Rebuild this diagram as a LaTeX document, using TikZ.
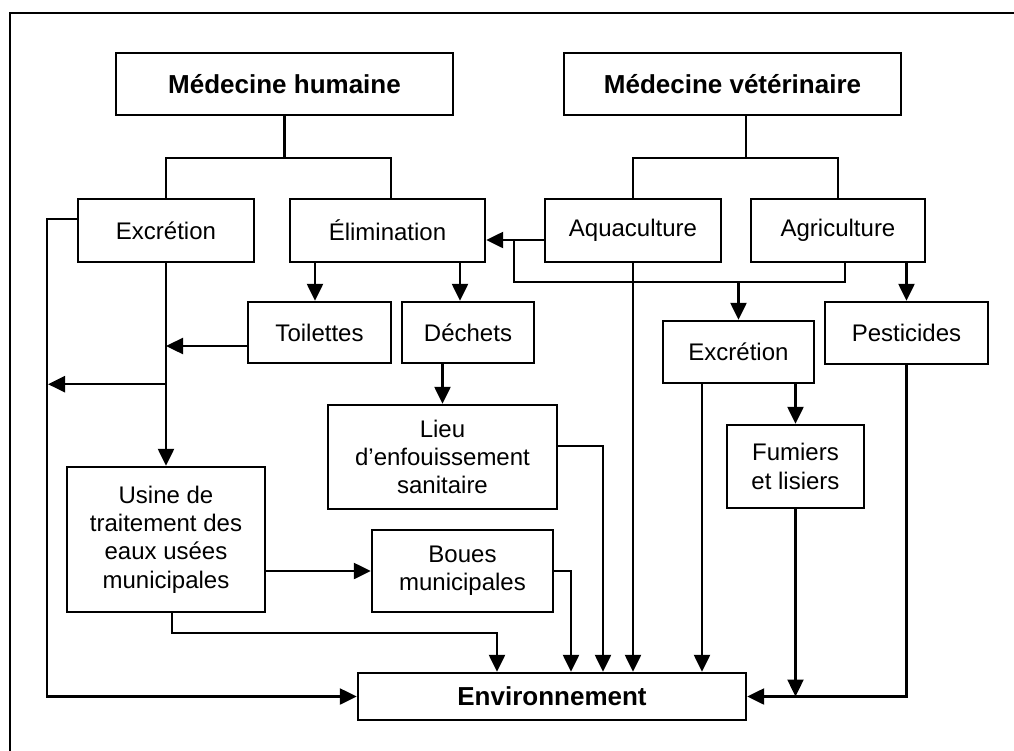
\documentclass[tikz,border=0pt]{standalone}
\usepackage{fontspec}
\setmainfont{Liberation Sans}
\usetikzlibrary{calc,arrows.meta}

\tikzset{
  box/.style={draw,line width=1.2pt,inner sep=0pt,align=center,font=\fontsize{12}{14.2}\selectfont},
  bbox/.style={box,font=\fontsize{13}{15}\selectfont\bfseries},
  link/.style={line width=1.2pt},
  arr/.style={link,-{Triangle[length=8.5pt,width=8pt]}}
}

\begin{document}
\begin{tikzpicture}[x=0.5pt,y=-0.5pt]
\useasboundingbox (0,0) rectangle (1014,751);
\draw[line width=1.3pt] (1014,13) -| (10,751);

\begin{scope}
\node[bbox,minimum width=168.5pt,minimum height=31pt] (mh) at (284.5,84) {Médecine humaine};
\node[box,minimum width=88pt,minimum height=31.5pt] (exch) at (166,230.5) {Excrétion};
\node[box,minimum width=97.5pt,minimum height=31.5pt] (elim) at (387.5,230.5) {Élimination};
\node[box,minimum width=71.5pt,minimum height=30.5pt] (toil) at (319.5,332.5) {Toilettes};
\node[box,minimum width=66pt,minimum height=30.5pt] (dech) at (468,332.5) {Déchets};
\node[box,minimum width=114.5pt,minimum height=52pt] (lieu) at (442.5,457) {Lieu\\d’enfouissement\\sanitaire};
\node[box,minimum width=99pt,minimum height=72.5pt] (usine) at (166,539.5) {Usine de\\traitement des\\eaux usées\\municipales};
\node[box,minimum width=90.5pt,minimum height=41pt] (boues) at (462.5,571) {Boues\\municipales};
\end{scope}

\begin{scope}
\node[bbox,minimum width=168.5pt,minimum height=31pt] (mv) at (732.5,84) {Médecine vétérinaire};
\node[box,minimum width=88pt,minimum height=31.5pt] (aqua) at (633,230.5) {Aquaculture};
\node[box,minimum width=87pt,minimum height=31.5pt] (agri) at (838,230.5) {Agriculture};
\node[box,minimum width=75.5pt,minimum height=31pt] (excv) at (738.5,352) {Excrétion};
\node[box,minimum width=81.5pt,minimum height=31pt] (pest) at (906.5,333) {Pesticides};
\node[box,minimum width=68.5pt,minimum height=41.5pt] (fum) at (795.5,466.5) {Fumiers\\et lisiers};
\end{scope}

\node[bbox,minimum width=194pt,minimum height=23.5pt] (env) at (552,696.5) {Environnement};

\draw[link] (mh.south) -- ++(0,42) coordinate (mhj);
\draw[link] (exch.north) |- (mhj) -| ($(elim.north)+(3.5,0)$);
\draw[link] ($(mv.south)+(13.5,0)$) -- ++(0,42) coordinate (mvj);
\draw[link] (aqua.north) |- (mvj) -| (agri.north);

\coordinate (e1) at ($(elim.south)+(-72.5,0)$);
\coordinate (e2) at ($(elim.south)+(72.5,0)$);
\draw[arr] (e1) -- (e1 |- toil.north);
\draw[arr] (e2) -- (e2 |- dech.north);

\coordinate (ag) at ($(agri.south)+(7,0)$);
\draw[link] ($(aqua.west)+(0,9.5)$) -- ++(-30,0) coordinate (aj);
\draw[arr] (ag) -- ++(0,19) coordinate (agj) -| (aj) -- ($(elim.east)+(0,9.5)$);
\draw[arr] (agj -| excv.north) -- (excv.north);
\draw[arr] (pest.north |- agri.south) -- (pest.north);
\draw[arr] (aqua.south) -- (aqua.south |- env.north);

\coordinate (tj) at ($(toil.west)+(0,13.5)$);
\draw[arr] (tj) -- (tj -| exch.south);
\draw[arr] (exch.south) -- (usine.north);
\draw[arr] ($(exch.west)+(0,-11.5)$) -- ++(-30,0) |- (env.west);
\draw[arr] ($(exch.south)+(0,121)$) -- ++(-118,0);

\draw[arr] (lieu.north |- dech.south) -- (lieu.north);
\draw[arr] ($(lieu.east)+(0,-11)$) -| ($(env.north)+(51,0)$);
\draw[arr] (usine.east |- boues.west) -- (boues.west);
\draw[arr] (boues.east) -| ($(env.north)+(19,0)$);
\draw[arr] ($(usine.south)+(6,0)$) -- ++(0,20) -| ($(env.north)+(-55,0)$);

\coordinate (ev) at ($(excv.south)+(-36.5,0)$);
\draw[arr] (ev) -- (ev |- env.north);
\draw[arr] (fum.north |- excv.south) -- (fum.north);
\draw[arr] (fum.south) -- (fum.south |- env.east);
\draw[arr] (pest.south) |- (env.east);

\end{tikzpicture}
\end{document}
